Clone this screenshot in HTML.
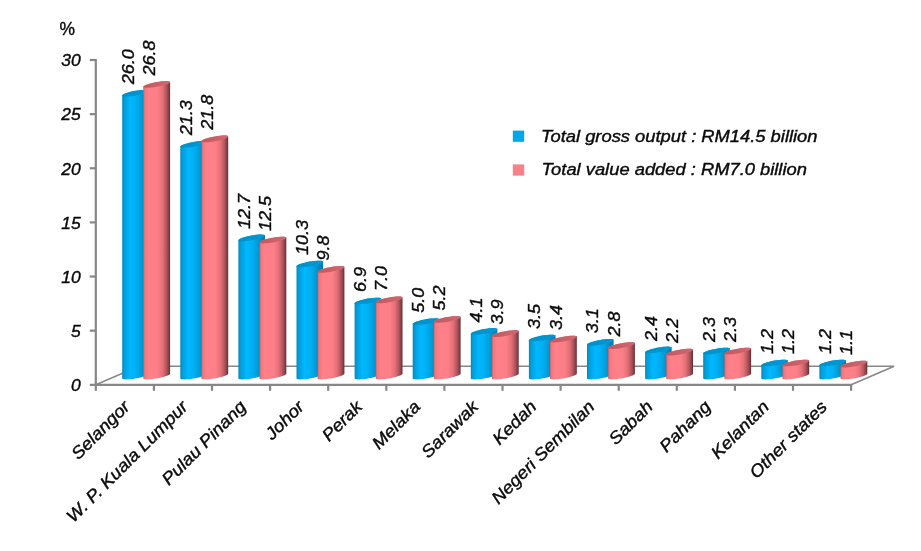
<!DOCTYPE html>
<html lang="en"><head><meta charset="utf-8"><title>Chart</title>
<style>
html,body{margin:0;padding:0;background:#fff;}
body{width:921px;height:551px;overflow:hidden;}
svg{display:block}
text{font-family:"Liberation Sans",Arial,sans-serif;font-style:italic;font-size:17.2px;fill:#0a0a0a;stroke:#0a0a0a;stroke-width:0.4px;}
</style></head><body>
<svg width="921" height="551" viewBox="0 0 921 551">
<defs>
<linearGradient id="gb" x1="0" x2="1" y1="0" y2="0">
<stop offset="0" stop-color="#0088c0"/><stop offset="0.07" stop-color="#009cd8"/><stop offset="0.3" stop-color="#00b8ff"/><stop offset="0.5" stop-color="#00b0f4"/><stop offset="0.68" stop-color="#00a0dc"/><stop offset="0.8" stop-color="#0090c8"/><stop offset="1" stop-color="#0078a8"/>
</linearGradient>
<linearGradient id="gp" x1="0" x2="1" y1="0" y2="0">
<stop offset="0" stop-color="#c86068"/><stop offset="0.06" stop-color="#f07880"/><stop offset="0.2" stop-color="#ff8088"/><stop offset="0.55" stop-color="#fc7e86"/><stop offset="0.72" stop-color="#e47078"/><stop offset="0.85" stop-color="#b85860"/><stop offset="0.95" stop-color="#844048"/><stop offset="1" stop-color="#602830"/>
</linearGradient>
<linearGradient id="tb" x1="0" x2="1" y1="0" y2="0">
<stop offset="0" stop-color="#0090c8"/><stop offset="1" stop-color="#0098d4"/>
</linearGradient>
<linearGradient id="tp" x1="0" x2="1" y1="0" y2="0">
<stop offset="0" stop-color="#c05860"/><stop offset="1" stop-color="#d06870"/>
</linearGradient>
</defs>
<rect width="921" height="551" fill="#fff"/>

<g stroke="#878787" fill="none">
<path d="M95.8,384.8 L138.8,366.2 L894.1,366.2 L851.1,384.8" stroke-width="1.5"/>
</g>
<path d="M122.2,378.4 L122.46,378.82 L123.21,379.14 L124.44,379.34 L126.1,379.42 L128.11,379.36 L130.41,379.18 L132.91,378.88 L135.5,378.47 L138.09,377.97 L140.59,377.4 L142.89,376.77 L144.9,376.12 L146.56,375.47 L147.79,374.84 L148.54,374.26 L148.8,373.75 L148.8,90.86 L148.54,90.44 L147.79,90.12 L146.56,89.92 L144.9,89.85 L142.89,89.9 L140.59,90.08 L138.09,90.38 L135.5,90.79 L132.91,91.29 L130.41,91.87 L128.11,92.49 L126.1,93.14 L124.44,93.79 L123.21,94.42 L122.46,95.01 L122.2,95.52Z" fill="url(#gb)"/>
<path d="M148.8,90.86 L148.54,91.38 L147.79,91.96 L146.56,92.59 L144.9,93.24 L142.89,93.89 L140.59,94.52 L138.09,95.09 L135.5,95.59 L132.91,96 L130.41,96.3 L128.11,96.48 L126.1,96.54 L124.44,96.46 L123.21,96.26 L122.46,95.94 L122.2,95.52 L122.46,95.01 L123.21,94.42 L124.44,93.79 L126.1,93.14 L128.11,92.49 L130.41,91.87 L132.91,91.29 L135.5,90.79 L138.09,90.38 L140.59,90.08 L142.89,89.9 L144.9,89.85 L146.56,89.92 L147.79,90.12 L148.54,90.44 L148.8,90.86Z" fill="url(#tb)"/>
<path d="M143.3,378.4 L143.56,378.82 L144.32,379.14 L145.56,379.34 L147.22,379.41 L149.26,379.35 L151.57,379.17 L154.09,378.87 L156.7,378.45 L159.31,377.95 L161.83,377.37 L164.14,376.75 L166.18,376.09 L167.84,375.44 L169.08,374.81 L169.84,374.22 L170.1,373.71 L170.1,82.13 L169.84,81.7 L169.08,81.39 L167.84,81.19 L166.18,81.12 L164.14,81.17 L161.83,81.36 L159.31,81.66 L156.7,82.07 L154.09,82.57 L151.57,83.15 L149.26,83.78 L147.22,84.43 L145.56,85.09 L144.32,85.72 L143.56,86.3 L143.3,86.82Z" fill="url(#gp)"/>
<path d="M170.1,82.13 L169.84,82.64 L169.08,83.22 L167.84,83.85 L166.18,84.51 L164.14,85.16 L161.83,85.79 L159.31,86.37 L156.7,86.87 L154.09,87.28 L151.57,87.59 L149.26,87.77 L147.22,87.83 L145.56,87.75 L144.32,87.56 L143.56,87.24 L143.3,86.82 L143.56,86.3 L144.32,85.72 L145.56,85.09 L147.22,84.43 L149.26,83.78 L151.57,83.15 L154.09,82.57 L156.7,82.07 L159.31,81.66 L161.83,81.36 L164.14,81.17 L166.18,81.12 L167.84,81.19 L169.08,81.39 L169.84,81.7 L170.1,82.13Z" fill="url(#tp)"/>
<path d="M180.3,378.4 L180.56,378.82 L181.31,379.14 L182.54,379.34 L184.2,379.42 L186.21,379.36 L188.51,379.18 L191.01,378.88 L193.6,378.47 L196.19,377.97 L198.69,377.4 L200.99,376.77 L203,376.12 L204.66,375.47 L205.89,374.84 L206.64,374.26 L206.9,373.75 L206.9,142 L206.64,141.58 L205.89,141.26 L204.66,141.06 L203,140.99 L200.99,141.04 L198.69,141.22 L196.19,141.52 L193.6,141.93 L191.01,142.43 L188.51,143 L186.21,143.63 L184.2,144.28 L182.54,144.93 L181.31,145.56 L180.56,146.14 L180.3,146.66Z" fill="url(#gb)"/>
<path d="M206.9,142 L206.64,142.51 L205.89,143.1 L204.66,143.73 L203,144.38 L200.99,145.03 L198.69,145.66 L196.19,146.23 L193.6,146.73 L191.01,147.14 L188.51,147.44 L186.21,147.62 L184.2,147.67 L182.54,147.6 L181.31,147.4 L180.56,147.08 L180.3,146.66 L180.56,146.14 L181.31,145.56 L182.54,144.93 L184.2,144.28 L186.21,143.63 L188.51,143 L191.01,142.43 L193.6,141.93 L196.19,141.52 L198.69,141.22 L200.99,141.04 L203,140.99 L204.66,141.06 L205.89,141.26 L206.64,141.58 L206.9,142Z" fill="url(#tb)"/>
<path d="M201.4,378.4 L201.66,378.82 L202.42,379.14 L203.66,379.34 L205.32,379.41 L207.36,379.35 L209.67,379.17 L212.19,378.87 L214.8,378.45 L217.41,377.95 L219.93,377.37 L222.24,376.75 L224.28,376.09 L225.94,375.44 L227.18,374.81 L227.94,374.22 L228.2,373.71 L228.2,136.53 L227.94,136.1 L227.18,135.79 L225.94,135.59 L224.28,135.52 L222.24,135.57 L219.93,135.76 L217.41,136.06 L214.8,136.47 L212.19,136.97 L209.67,137.55 L207.36,138.18 L205.32,138.83 L203.66,139.49 L202.42,140.12 L201.66,140.7 L201.4,141.22Z" fill="url(#gp)"/>
<path d="M228.2,136.53 L227.94,137.04 L227.18,137.62 L225.94,138.25 L224.28,138.91 L222.24,139.56 L219.93,140.19 L217.41,140.77 L214.8,141.27 L212.19,141.68 L209.67,141.99 L207.36,142.17 L205.32,142.23 L203.66,142.15 L202.42,141.96 L201.66,141.64 L201.4,141.22 L201.66,140.7 L202.42,140.12 L203.66,139.49 L205.32,138.83 L207.36,138.18 L209.67,137.55 L212.19,136.97 L214.8,136.47 L217.41,136.06 L219.93,135.76 L222.24,135.57 L224.28,135.52 L225.94,135.59 L227.18,135.79 L227.94,136.1 L228.2,136.53Z" fill="url(#tp)"/>
<path d="M238.4,378.4 L238.66,378.82 L239.41,379.14 L240.64,379.34 L242.3,379.42 L244.31,379.36 L246.61,379.18 L249.11,378.88 L251.7,378.47 L254.29,377.97 L256.79,377.4 L259.09,376.77 L261.1,376.12 L262.76,375.47 L263.99,374.84 L264.74,374.26 L265,373.75 L265,235.57 L264.74,235.15 L263.99,234.83 L262.76,234.63 L261.1,234.55 L259.09,234.61 L256.79,234.79 L254.29,235.09 L251.7,235.5 L249.11,236 L246.61,236.57 L244.31,237.19 L242.3,237.85 L240.64,238.5 L239.41,239.13 L238.66,239.71 L238.4,240.22Z" fill="url(#gb)"/>
<path d="M265,235.57 L264.74,236.08 L263.99,236.66 L262.76,237.29 L261.1,237.95 L259.09,238.6 L256.79,239.22 L254.29,239.8 L251.7,240.3 L249.11,240.7 L246.61,241 L244.31,241.19 L242.3,241.24 L240.64,241.17 L239.41,240.97 L238.66,240.65 L238.4,240.22 L238.66,239.71 L239.41,239.13 L240.64,238.5 L242.3,237.85 L244.31,237.19 L246.61,236.57 L249.11,236 L251.7,235.5 L254.29,235.09 L256.79,234.79 L259.09,234.61 L261.1,234.55 L262.76,234.63 L263.99,234.83 L264.74,235.15 L265,235.57Z" fill="url(#tb)"/>
<path d="M259.5,378.4 L259.76,378.82 L260.52,379.14 L261.76,379.34 L263.42,379.41 L265.46,379.35 L267.77,379.17 L270.29,378.87 L272.9,378.45 L275.51,377.95 L278.03,377.37 L280.34,376.75 L282.38,376.09 L284.04,375.44 L285.28,374.81 L286.04,374.22 L286.3,373.71 L286.3,237.71 L286.04,237.29 L285.28,236.97 L284.04,236.77 L282.38,236.7 L280.34,236.76 L278.03,236.94 L275.51,237.24 L272.9,237.65 L270.29,238.16 L267.77,238.74 L265.46,239.36 L263.42,240.02 L261.76,240.67 L260.52,241.3 L259.76,241.89 L259.5,242.4Z" fill="url(#gp)"/>
<path d="M286.3,237.71 L286.04,238.22 L285.28,238.81 L284.04,239.44 L282.38,240.09 L280.34,240.75 L278.03,241.37 L275.51,241.95 L272.9,242.45 L270.29,242.87 L267.77,243.17 L265.46,243.35 L263.42,243.41 L261.76,243.34 L260.52,243.14 L259.76,242.82 L259.5,242.4 L259.76,241.89 L260.52,241.3 L261.76,240.67 L263.42,240.02 L265.46,239.36 L267.77,238.74 L270.29,238.16 L272.9,237.65 L275.51,237.24 L278.03,236.94 L280.34,236.76 L282.38,236.7 L284.04,236.77 L285.28,236.97 L286.04,237.29 L286.3,237.71Z" fill="url(#tp)"/>
<path d="M296.5,378.4 L296.76,378.82 L297.51,379.14 L298.74,379.34 L300.4,379.42 L302.41,379.36 L304.71,379.18 L307.21,378.88 L309.8,378.47 L312.39,377.97 L314.89,377.4 L317.19,376.77 L319.2,376.12 L320.86,375.47 L322.09,374.84 L322.84,374.26 L323.1,373.75 L323.1,261.68 L322.84,261.26 L322.09,260.94 L320.86,260.74 L319.2,260.67 L317.19,260.72 L314.89,260.9 L312.39,261.2 L309.8,261.61 L307.21,262.11 L304.71,262.68 L302.41,263.31 L300.4,263.96 L298.74,264.61 L297.51,265.24 L296.76,265.82 L296.5,266.34Z" fill="url(#gb)"/>
<path d="M323.1,261.68 L322.84,262.19 L322.09,262.78 L320.86,263.41 L319.2,264.06 L317.19,264.71 L314.89,265.34 L312.39,265.91 L309.8,266.41 L307.21,266.82 L304.71,267.12 L302.41,267.3 L300.4,267.35 L298.74,267.28 L297.51,267.08 L296.76,266.76 L296.5,266.34 L296.76,265.82 L297.51,265.24 L298.74,264.61 L300.4,263.96 L302.41,263.31 L304.71,262.68 L307.21,262.11 L309.8,261.61 L312.39,261.2 L314.89,260.9 L317.19,260.72 L319.2,260.67 L320.86,260.74 L322.09,260.94 L322.84,261.26 L323.1,261.68Z" fill="url(#tb)"/>
<path d="M317.6,378.4 L317.86,378.82 L318.62,379.14 L319.86,379.34 L321.52,379.41 L323.56,379.35 L325.87,379.17 L328.39,378.87 L331,378.45 L333.61,377.95 L336.13,377.37 L338.44,376.75 L340.48,376.09 L342.14,375.44 L343.38,374.81 L344.14,374.22 L344.4,373.71 L344.4,267.09 L344.14,266.66 L343.38,266.35 L342.14,266.15 L340.48,266.08 L338.44,266.13 L336.13,266.32 L333.61,266.62 L331,267.03 L328.39,267.53 L325.87,268.11 L323.56,268.74 L321.52,269.39 L319.86,270.05 L318.62,270.68 L317.86,271.26 L317.6,271.78Z" fill="url(#gp)"/>
<path d="M344.4,267.09 L344.14,267.6 L343.38,268.18 L342.14,268.81 L340.48,269.47 L338.44,270.12 L336.13,270.75 L333.61,271.33 L331,271.83 L328.39,272.24 L325.87,272.55 L323.56,272.73 L321.52,272.79 L319.86,272.71 L318.62,272.52 L317.86,272.2 L317.6,271.78 L317.86,271.26 L318.62,270.68 L319.86,270.05 L321.52,269.39 L323.56,268.74 L325.87,268.11 L328.39,267.53 L331,267.03 L333.61,266.62 L336.13,266.32 L338.44,266.13 L340.48,266.08 L342.14,266.15 L343.38,266.35 L344.14,266.66 L344.4,267.09Z" fill="url(#tp)"/>
<path d="M354.6,378.4 L354.86,378.82 L355.61,379.14 L356.84,379.34 L358.5,379.42 L360.51,379.36 L362.81,379.18 L365.31,378.88 L367.9,378.47 L370.49,377.97 L372.99,377.4 L375.29,376.77 L377.3,376.12 L378.96,375.47 L380.19,374.84 L380.94,374.26 L381.2,373.75 L381.2,298.67 L380.94,298.25 L380.19,297.93 L378.96,297.73 L377.3,297.66 L375.29,297.71 L372.99,297.89 L370.49,298.19 L367.9,298.6 L365.31,299.1 L362.81,299.67 L360.51,300.3 L358.5,300.95 L356.84,301.6 L355.61,302.23 L354.86,302.82 L354.6,303.33Z" fill="url(#gb)"/>
<path d="M381.2,298.67 L380.94,299.19 L380.19,299.77 L378.96,300.4 L377.3,301.05 L375.29,301.7 L372.99,302.33 L370.49,302.9 L367.9,303.4 L365.31,303.81 L362.81,304.11 L360.51,304.29 L358.5,304.34 L356.84,304.27 L355.61,304.07 L354.86,303.75 L354.6,303.33 L354.86,302.82 L355.61,302.23 L356.84,301.6 L358.5,300.95 L360.51,300.3 L362.81,299.67 L365.31,299.1 L367.9,298.6 L370.49,298.19 L372.99,297.89 L375.29,297.71 L377.3,297.66 L378.96,297.73 L380.19,297.93 L380.94,298.25 L381.2,298.67Z" fill="url(#tb)"/>
<path d="M375.7,378.4 L375.96,378.82 L376.72,379.14 L377.96,379.34 L379.62,379.41 L381.66,379.35 L383.97,379.17 L386.49,378.87 L389.1,378.45 L391.71,377.95 L394.23,377.37 L396.54,376.75 L398.58,376.09 L400.24,375.44 L401.48,374.81 L402.24,374.22 L402.5,373.71 L402.5,297.55 L402.24,297.13 L401.48,296.81 L400.24,296.61 L398.58,296.54 L396.54,296.6 L394.23,296.78 L391.71,297.08 L389.1,297.49 L386.49,298 L383.97,298.58 L381.66,299.2 L379.62,299.86 L377.96,300.51 L376.72,301.14 L375.96,301.73 L375.7,302.24Z" fill="url(#gp)"/>
<path d="M402.5,297.55 L402.24,298.06 L401.48,298.65 L400.24,299.28 L398.58,299.93 L396.54,300.59 L394.23,301.21 L391.71,301.79 L389.1,302.29 L386.49,302.71 L383.97,303.01 L381.66,303.19 L379.62,303.25 L377.96,303.18 L376.72,302.98 L375.96,302.66 L375.7,302.24 L375.96,301.73 L376.72,301.14 L377.96,300.51 L379.62,299.86 L381.66,299.2 L383.97,298.58 L386.49,298 L389.1,297.49 L391.71,297.08 L394.23,296.78 L396.54,296.6 L398.58,296.54 L400.24,296.61 L401.48,296.81 L402.24,297.13 L402.5,297.55Z" fill="url(#tp)"/>
<path d="M412.7,378.4 L412.96,378.82 L413.71,379.14 L414.94,379.34 L416.6,379.42 L418.61,379.36 L420.91,379.18 L423.41,378.88 L426,378.47 L428.59,377.97 L431.09,377.4 L433.39,376.77 L435.4,376.12 L437.06,375.47 L438.29,374.84 L439.04,374.26 L439.3,373.75 L439.3,319.35 L439.04,318.92 L438.29,318.6 L437.06,318.4 L435.4,318.33 L433.39,318.38 L431.09,318.56 L428.59,318.86 L426,319.27 L423.41,319.77 L420.91,320.35 L418.61,320.97 L416.6,321.62 L414.94,322.27 L413.71,322.9 L412.96,323.49 L412.7,324Z" fill="url(#gb)"/>
<path d="M439.3,319.35 L439.04,319.86 L438.29,320.44 L437.06,321.07 L435.4,321.72 L433.39,322.37 L431.09,323 L428.59,323.57 L426,324.07 L423.41,324.48 L420.91,324.78 L418.61,324.96 L416.6,325.02 L414.94,324.94 L413.71,324.74 L412.96,324.42 L412.7,324 L412.96,323.49 L413.71,322.9 L414.94,322.27 L416.6,321.62 L418.61,320.97 L420.91,320.35 L423.41,319.77 L426,319.27 L428.59,318.86 L431.09,318.56 L433.39,318.38 L435.4,318.33 L437.06,318.4 L438.29,318.6 L439.04,318.92 L439.3,319.35Z" fill="url(#tb)"/>
<path d="M433.8,378.4 L434.06,378.82 L434.82,379.14 L436.06,379.34 L437.72,379.41 L439.76,379.35 L442.07,379.17 L444.59,378.87 L447.2,378.45 L449.81,377.95 L452.33,377.37 L454.64,376.75 L456.68,376.09 L458.34,375.44 L459.58,374.81 L460.34,374.22 L460.6,373.71 L460.6,317.13 L460.34,316.71 L459.58,316.39 L458.34,316.2 L456.68,316.12 L454.64,316.18 L452.33,316.36 L449.81,316.67 L447.2,317.08 L444.59,317.58 L442.07,318.16 L439.76,318.79 L437.72,319.44 L436.06,320.1 L434.82,320.73 L434.06,321.31 L433.8,321.82Z" fill="url(#gp)"/>
<path d="M460.6,317.13 L460.34,317.65 L459.58,318.23 L458.34,318.86 L456.68,319.52 L454.64,320.17 L452.33,320.8 L449.81,321.38 L447.2,321.88 L444.59,322.29 L442.07,322.59 L439.76,322.78 L437.72,322.83 L436.06,322.76 L434.82,322.56 L434.06,322.25 L433.8,321.82 L434.06,321.31 L434.82,320.73 L436.06,320.1 L437.72,319.44 L439.76,318.79 L442.07,318.16 L444.59,317.58 L447.2,317.08 L449.81,316.67 L452.33,316.36 L454.64,316.18 L456.68,316.12 L458.34,316.2 L459.58,316.39 L460.34,316.71 L460.6,317.13Z" fill="url(#tp)"/>
<path d="M470.8,378.4 L471.06,378.82 L471.81,379.14 L473.04,379.34 L474.7,379.42 L476.71,379.36 L479.01,379.18 L481.51,378.88 L484.1,378.47 L486.69,377.97 L489.19,377.4 L491.49,376.77 L493.5,376.12 L495.16,375.47 L496.39,374.84 L497.14,374.26 L497.4,373.75 L497.4,329.14 L497.14,328.71 L496.39,328.4 L495.16,328.2 L493.5,328.12 L491.49,328.18 L489.19,328.36 L486.69,328.66 L484.1,329.06 L481.51,329.56 L479.01,330.14 L476.71,330.76 L474.7,331.41 L473.04,332.07 L471.81,332.7 L471.06,333.28 L470.8,333.79Z" fill="url(#gb)"/>
<path d="M497.4,329.14 L497.14,329.65 L496.39,330.23 L495.16,330.86 L493.5,331.52 L491.49,332.17 L489.19,332.79 L486.69,333.36 L484.1,333.86 L481.51,334.27 L479.01,334.57 L476.71,334.75 L474.7,334.81 L473.04,334.73 L471.81,334.53 L471.06,334.22 L470.8,333.79 L471.06,333.28 L471.81,332.7 L473.04,332.07 L474.7,331.41 L476.71,330.76 L479.01,330.14 L481.51,329.56 L484.1,329.06 L486.69,328.66 L489.19,328.36 L491.49,328.18 L493.5,328.12 L495.16,328.2 L496.39,328.4 L497.14,328.71 L497.4,329.14Z" fill="url(#tb)"/>
<path d="M491.9,378.4 L492.16,378.82 L492.92,379.14 L494.16,379.34 L495.82,379.41 L497.86,379.35 L500.17,379.17 L502.69,378.87 L505.3,378.45 L507.91,377.95 L510.43,377.37 L512.74,376.75 L514.78,376.09 L516.44,375.44 L517.68,374.81 L518.44,374.22 L518.7,373.71 L518.7,331.28 L518.44,330.85 L517.68,330.54 L516.44,330.34 L514.78,330.27 L512.74,330.32 L510.43,330.51 L507.91,330.81 L505.3,331.22 L502.69,331.73 L500.17,332.3 L497.86,332.93 L495.82,333.58 L494.16,334.24 L492.92,334.87 L492.16,335.45 L491.9,335.97Z" fill="url(#gp)"/>
<path d="M518.7,331.28 L518.44,331.79 L517.68,332.37 L516.44,333.01 L514.78,333.66 L512.74,334.32 L510.43,334.94 L507.91,335.52 L505.3,336.02 L502.69,336.43 L500.17,336.74 L497.86,336.92 L495.82,336.98 L494.16,336.91 L492.92,336.71 L492.16,336.39 L491.9,335.97 L492.16,335.45 L492.92,334.87 L494.16,334.24 L495.82,333.58 L497.86,332.93 L500.17,332.3 L502.69,331.73 L505.3,331.22 L507.91,330.81 L510.43,330.51 L512.74,330.32 L514.78,330.27 L516.44,330.34 L517.68,330.54 L518.44,330.85 L518.7,331.28Z" fill="url(#tp)"/>
<path d="M528.9,378.4 L529.16,378.82 L529.91,379.14 L531.14,379.34 L532.8,379.42 L534.81,379.36 L537.11,379.18 L539.61,378.88 L542.2,378.47 L544.79,377.97 L547.29,377.4 L549.59,376.77 L551.6,376.12 L553.26,375.47 L554.49,374.84 L555.24,374.26 L555.5,373.75 L555.5,335.67 L555.24,335.24 L554.49,334.92 L553.26,334.72 L551.6,334.65 L549.59,334.7 L547.29,334.88 L544.79,335.18 L542.2,335.59 L539.61,336.09 L537.11,336.67 L534.81,337.29 L532.8,337.94 L531.14,338.59 L529.91,339.22 L529.16,339.81 L528.9,340.32Z" fill="url(#gb)"/>
<path d="M555.5,335.67 L555.24,336.18 L554.49,336.76 L553.26,337.39 L551.6,338.04 L549.59,338.69 L547.29,339.32 L544.79,339.89 L542.2,340.39 L539.61,340.8 L537.11,341.1 L534.81,341.28 L532.8,341.34 L531.14,341.26 L529.91,341.06 L529.16,340.74 L528.9,340.32 L529.16,339.81 L529.91,339.22 L531.14,338.59 L532.8,337.94 L534.81,337.29 L537.11,336.67 L539.61,336.09 L542.2,335.59 L544.79,335.18 L547.29,334.88 L549.59,334.7 L551.6,334.65 L553.26,334.72 L554.49,334.92 L555.24,335.24 L555.5,335.67Z" fill="url(#tb)"/>
<path d="M550,378.4 L550.26,378.82 L551.02,379.14 L552.26,379.34 L553.92,379.41 L555.96,379.35 L558.27,379.17 L560.79,378.87 L563.4,378.45 L566.01,377.95 L568.53,377.37 L570.84,376.75 L572.88,376.09 L574.54,375.44 L575.78,374.81 L576.54,374.22 L576.8,373.71 L576.8,336.72 L576.54,336.29 L575.78,335.98 L574.54,335.78 L572.88,335.71 L570.84,335.76 L568.53,335.95 L566.01,336.25 L563.4,336.66 L560.79,337.17 L558.27,337.74 L555.96,338.37 L553.92,339.02 L552.26,339.68 L551.02,340.31 L550.26,340.89 L550,341.41Z" fill="url(#gp)"/>
<path d="M576.8,336.72 L576.54,337.23 L575.78,337.81 L574.54,338.45 L572.88,339.1 L570.84,339.76 L568.53,340.38 L566.01,340.96 L563.4,341.46 L560.79,341.87 L558.27,342.18 L555.96,342.36 L553.92,342.42 L552.26,342.35 L551.02,342.15 L550.26,341.83 L550,341.41 L550.26,340.89 L551.02,340.31 L552.26,339.68 L553.92,339.02 L555.96,338.37 L558.27,337.74 L560.79,337.17 L563.4,336.66 L566.01,336.25 L568.53,335.95 L570.84,335.76 L572.88,335.71 L574.54,335.78 L575.78,335.98 L576.54,336.29 L576.8,336.72Z" fill="url(#tp)"/>
<path d="M587,378.4 L587.26,378.82 L588.01,379.14 L589.24,379.34 L590.9,379.42 L592.91,379.36 L595.21,379.18 L597.71,378.88 L600.3,378.47 L602.89,377.97 L605.39,377.4 L607.69,376.77 L609.7,376.12 L611.36,375.47 L612.59,374.84 L613.34,374.26 L613.6,373.75 L613.6,340.02 L613.34,339.59 L612.59,339.28 L611.36,339.08 L609.7,339 L607.69,339.06 L605.39,339.24 L602.89,339.54 L600.3,339.94 L597.71,340.44 L595.21,341.02 L592.91,341.64 L590.9,342.29 L589.24,342.95 L588.01,343.58 L587.26,344.16 L587,344.67Z" fill="url(#gb)"/>
<path d="M613.6,340.02 L613.34,340.53 L612.59,341.11 L611.36,341.74 L609.7,342.4 L607.69,343.05 L605.39,343.67 L602.89,344.24 L600.3,344.74 L597.71,345.15 L595.21,345.45 L592.91,345.63 L590.9,345.69 L589.24,345.61 L588.01,345.41 L587.26,345.1 L587,344.67 L587.26,344.16 L588.01,343.58 L589.24,342.95 L590.9,342.29 L592.91,341.64 L595.21,341.02 L597.71,340.44 L600.3,339.94 L602.89,339.54 L605.39,339.24 L607.69,339.06 L609.7,339 L611.36,339.08 L612.59,339.28 L613.34,339.59 L613.6,340.02Z" fill="url(#tb)"/>
<path d="M608.1,378.4 L608.36,378.82 L609.12,379.14 L610.36,379.34 L612.02,379.41 L614.06,379.35 L616.37,379.17 L618.89,378.87 L621.5,378.45 L624.11,377.95 L626.63,377.37 L628.94,376.75 L630.98,376.09 L632.64,375.44 L633.88,374.81 L634.64,374.22 L634.9,373.71 L634.9,343.25 L634.64,342.82 L633.88,342.51 L632.64,342.31 L630.98,342.24 L628.94,342.29 L626.63,342.48 L624.11,342.78 L621.5,343.19 L618.89,343.69 L616.37,344.27 L614.06,344.9 L612.02,345.55 L610.36,346.21 L609.12,346.84 L608.36,347.42 L608.1,347.94Z" fill="url(#gp)"/>
<path d="M634.9,343.25 L634.64,343.76 L633.88,344.34 L632.64,344.97 L630.98,345.63 L628.94,346.28 L626.63,346.91 L624.11,347.49 L621.5,347.99 L618.89,348.4 L616.37,348.71 L614.06,348.89 L612.02,348.95 L610.36,348.87 L609.12,348.68 L608.36,348.36 L608.1,347.94 L608.36,347.42 L609.12,346.84 L610.36,346.21 L612.02,345.55 L614.06,344.9 L616.37,344.27 L618.89,343.69 L621.5,343.19 L624.11,342.78 L626.63,342.48 L628.94,342.29 L630.98,342.24 L632.64,342.31 L633.88,342.51 L634.64,342.82 L634.9,343.25Z" fill="url(#tp)"/>
<path d="M645.1,378.4 L645.36,378.82 L646.11,379.14 L647.34,379.34 L649,379.42 L651.01,379.36 L653.31,379.18 L655.81,378.88 L658.4,378.47 L660.99,377.97 L663.49,377.4 L665.79,376.77 L667.8,376.12 L669.46,375.47 L670.69,374.84 L671.44,374.26 L671.7,373.75 L671.7,347.63 L671.44,347.21 L670.69,346.89 L669.46,346.69 L667.8,346.62 L665.79,346.67 L663.49,346.85 L660.99,347.15 L658.4,347.56 L655.81,348.06 L653.31,348.63 L651.01,349.26 L649,349.91 L647.34,350.56 L646.11,351.19 L645.36,351.78 L645.1,352.29Z" fill="url(#gb)"/>
<path d="M671.7,347.63 L671.44,348.15 L670.69,348.73 L669.46,349.36 L667.8,350.01 L665.79,350.66 L663.49,351.29 L660.99,351.86 L658.4,352.36 L655.81,352.77 L653.31,353.07 L651.01,353.25 L649,353.3 L647.34,353.23 L646.11,353.03 L645.36,352.71 L645.1,352.29 L645.36,351.78 L646.11,351.19 L647.34,350.56 L649,349.91 L651.01,349.26 L653.31,348.63 L655.81,348.06 L658.4,347.56 L660.99,347.15 L663.49,346.85 L665.79,346.67 L667.8,346.62 L669.46,346.69 L670.69,346.89 L671.44,347.21 L671.7,347.63Z" fill="url(#tb)"/>
<path d="M666.2,378.4 L666.46,378.82 L667.22,379.14 L668.46,379.34 L670.12,379.41 L672.16,379.35 L674.47,379.17 L676.99,378.87 L679.6,378.45 L682.21,377.95 L684.73,377.37 L687.04,376.75 L689.08,376.09 L690.74,375.44 L691.98,374.81 L692.74,374.22 L693,373.71 L693,349.77 L692.74,349.35 L691.98,349.03 L690.74,348.84 L689.08,348.76 L687.04,348.82 L684.73,349 L682.21,349.31 L679.6,349.72 L676.99,350.22 L674.47,350.8 L672.16,351.43 L670.12,352.08 L668.46,352.74 L667.22,353.37 L666.46,353.95 L666.2,354.46Z" fill="url(#gp)"/>
<path d="M693,349.77 L692.74,350.29 L691.98,350.87 L690.74,351.5 L689.08,352.16 L687.04,352.81 L684.73,353.44 L682.21,354.02 L679.6,354.52 L676.99,354.93 L674.47,355.23 L672.16,355.42 L670.12,355.47 L668.46,355.4 L667.22,355.2 L666.46,354.89 L666.2,354.46 L666.46,353.95 L667.22,353.37 L668.46,352.74 L670.12,352.08 L672.16,351.43 L674.47,350.8 L676.99,350.22 L679.6,349.72 L682.21,349.31 L684.73,349 L687.04,348.82 L689.08,348.76 L690.74,348.84 L691.98,349.03 L692.74,349.35 L693,349.77Z" fill="url(#tp)"/>
<path d="M703.2,378.4 L703.46,378.82 L704.21,379.14 L705.44,379.34 L707.1,379.42 L709.11,379.36 L711.41,379.18 L713.91,378.88 L716.5,378.47 L719.09,377.97 L721.59,377.4 L723.89,376.77 L725.9,376.12 L727.56,375.47 L728.79,374.84 L729.54,374.26 L729.8,373.75 L729.8,348.72 L729.54,348.3 L728.79,347.98 L727.56,347.78 L725.9,347.71 L723.89,347.76 L721.59,347.94 L719.09,348.24 L716.5,348.65 L713.91,349.15 L711.41,349.72 L709.11,350.35 L707.1,351 L705.44,351.65 L704.21,352.28 L703.46,352.86 L703.2,353.38Z" fill="url(#gb)"/>
<path d="M729.8,348.72 L729.54,349.23 L728.79,349.82 L727.56,350.45 L725.9,351.1 L723.89,351.75 L721.59,352.38 L719.09,352.95 L716.5,353.45 L713.91,353.86 L711.41,354.16 L709.11,354.34 L707.1,354.39 L705.44,354.32 L704.21,354.12 L703.46,353.8 L703.2,353.38 L703.46,352.86 L704.21,352.28 L705.44,351.65 L707.1,351 L709.11,350.35 L711.41,349.72 L713.91,349.15 L716.5,348.65 L719.09,348.24 L721.59,347.94 L723.89,347.76 L725.9,347.71 L727.56,347.78 L728.79,347.98 L729.54,348.3 L729.8,348.72Z" fill="url(#tb)"/>
<path d="M724.3,378.4 L724.56,378.82 L725.32,379.14 L726.56,379.34 L728.22,379.41 L730.26,379.35 L732.57,379.17 L735.09,378.87 L737.7,378.45 L740.31,377.95 L742.83,377.37 L745.14,376.75 L747.18,376.09 L748.84,375.44 L750.08,374.81 L750.84,374.22 L751.1,373.71 L751.1,348.69 L750.84,348.26 L750.08,347.95 L748.84,347.75 L747.18,347.68 L745.14,347.73 L742.83,347.92 L740.31,348.22 L737.7,348.63 L735.09,349.13 L732.57,349.71 L730.26,350.34 L728.22,350.99 L726.56,351.65 L725.32,352.28 L724.56,352.86 L724.3,353.38Z" fill="url(#gp)"/>
<path d="M751.1,348.69 L750.84,349.2 L750.08,349.78 L748.84,350.41 L747.18,351.07 L745.14,351.72 L742.83,352.35 L740.31,352.93 L737.7,353.43 L735.09,353.84 L732.57,354.15 L730.26,354.33 L728.22,354.39 L726.56,354.31 L725.32,354.12 L724.56,353.8 L724.3,353.38 L724.56,352.86 L725.32,352.28 L726.56,351.65 L728.22,350.99 L730.26,350.34 L732.57,349.71 L735.09,349.13 L737.7,348.63 L740.31,348.22 L742.83,347.92 L745.14,347.73 L747.18,347.68 L748.84,347.75 L750.08,347.95 L750.84,348.26 L751.1,348.69Z" fill="url(#tp)"/>
<path d="M761.3,378.4 L761.56,378.82 L762.31,379.14 L763.54,379.34 L765.2,379.42 L767.21,379.36 L769.51,379.18 L772.01,378.88 L774.6,378.47 L777.19,377.97 L779.69,377.4 L781.99,376.77 L784,376.12 L785.66,375.47 L786.89,374.84 L787.64,374.26 L787.9,373.75 L787.9,360.69 L787.64,360.27 L786.89,359.95 L785.66,359.75 L784,359.67 L781.99,359.73 L779.69,359.91 L777.19,360.21 L774.6,360.62 L772.01,361.12 L769.51,361.69 L767.21,362.31 L765.2,362.97 L763.54,363.62 L762.31,364.25 L761.56,364.83 L761.3,365.34Z" fill="url(#gb)"/>
<path d="M787.9,360.69 L787.64,361.2 L786.89,361.78 L785.66,362.41 L784,363.07 L781.99,363.72 L779.69,364.34 L777.19,364.92 L774.6,365.42 L772.01,365.82 L769.51,366.12 L767.21,366.31 L765.2,366.36 L763.54,366.29 L762.31,366.09 L761.56,365.77 L761.3,365.34 L761.56,364.83 L762.31,364.25 L763.54,363.62 L765.2,362.97 L767.21,362.31 L769.51,361.69 L772.01,361.12 L774.6,360.62 L777.19,360.21 L779.69,359.91 L781.99,359.73 L784,359.67 L785.66,359.75 L786.89,359.95 L787.64,360.27 L787.9,360.69Z" fill="url(#tb)"/>
<path d="M782.4,378.4 L782.66,378.82 L783.42,379.14 L784.66,379.34 L786.32,379.41 L788.36,379.35 L790.67,379.17 L793.19,378.87 L795.8,378.45 L798.41,377.95 L800.93,377.37 L803.24,376.75 L805.28,376.09 L806.94,375.44 L808.18,374.81 L808.94,374.22 L809.2,373.71 L809.2,360.65 L808.94,360.23 L808.18,359.91 L806.94,359.72 L805.28,359.64 L803.24,359.7 L800.93,359.88 L798.41,360.19 L795.8,360.6 L793.19,361.1 L790.67,361.68 L788.36,362.31 L786.32,362.96 L784.66,363.62 L783.42,364.25 L782.66,364.83 L782.4,365.34Z" fill="url(#gp)"/>
<path d="M809.2,360.65 L808.94,361.17 L808.18,361.75 L806.94,362.38 L805.28,363.04 L803.24,363.69 L800.93,364.32 L798.41,364.9 L795.8,365.4 L793.19,365.81 L790.67,366.11 L788.36,366.3 L786.32,366.35 L784.66,366.28 L783.42,366.08 L782.66,365.77 L782.4,365.34 L782.66,364.83 L783.42,364.25 L784.66,363.62 L786.32,362.96 L788.36,362.31 L790.67,361.68 L793.19,361.1 L795.8,360.6 L798.41,360.19 L800.93,359.88 L803.24,359.7 L805.28,359.64 L806.94,359.72 L808.18,359.91 L808.94,360.23 L809.2,360.65Z" fill="url(#tp)"/>
<path d="M819.4,378.4 L819.66,378.82 L820.41,379.14 L821.64,379.34 L823.3,379.42 L825.31,379.36 L827.61,379.18 L830.11,378.88 L832.7,378.47 L835.29,377.97 L837.79,377.4 L840.09,376.77 L842.1,376.12 L843.76,375.47 L844.99,374.84 L845.74,374.26 L846,373.75 L846,360.69 L845.74,360.27 L844.99,359.95 L843.76,359.75 L842.1,359.67 L840.09,359.73 L837.79,359.91 L835.29,360.21 L832.7,360.62 L830.11,361.12 L827.61,361.69 L825.31,362.31 L823.3,362.97 L821.64,363.62 L820.41,364.25 L819.66,364.83 L819.4,365.34Z" fill="url(#gb)"/>
<path d="M846,360.69 L845.74,361.2 L844.99,361.78 L843.76,362.41 L842.1,363.07 L840.09,363.72 L837.79,364.34 L835.29,364.92 L832.7,365.42 L830.11,365.82 L827.61,366.12 L825.31,366.31 L823.3,366.36 L821.64,366.29 L820.41,366.09 L819.66,365.77 L819.4,365.34 L819.66,364.83 L820.41,364.25 L821.64,363.62 L823.3,362.97 L825.31,362.31 L827.61,361.69 L830.11,361.12 L832.7,360.62 L835.29,360.21 L837.79,359.91 L840.09,359.73 L842.1,359.67 L843.76,359.75 L844.99,359.95 L845.74,360.27 L846,360.69Z" fill="url(#tb)"/>
<path d="M840.5,378.4 L840.76,378.82 L841.52,379.14 L842.76,379.34 L844.42,379.41 L846.46,379.35 L848.77,379.17 L851.29,378.87 L853.9,378.45 L856.51,377.95 L859.03,377.37 L861.34,376.75 L863.38,376.09 L865.04,375.44 L866.28,374.81 L867.04,374.22 L867.3,373.71 L867.3,361.74 L867.04,361.32 L866.28,361 L865.04,360.8 L863.38,360.73 L861.34,360.79 L859.03,360.97 L856.51,361.28 L853.9,361.69 L851.29,362.19 L848.77,362.77 L846.46,363.39 L844.42,364.05 L842.76,364.7 L841.52,365.34 L840.76,365.92 L840.5,366.43Z" fill="url(#gp)"/>
<path d="M867.3,361.74 L867.04,362.26 L866.28,362.84 L865.04,363.47 L863.38,364.13 L861.34,364.78 L859.03,365.41 L856.51,365.98 L853.9,366.49 L851.29,366.9 L848.77,367.2 L846.46,367.39 L844.42,367.44 L842.76,367.37 L841.52,367.17 L840.76,366.86 L840.5,366.43 L840.76,365.92 L841.52,365.34 L842.76,364.7 L844.42,364.05 L846.46,363.39 L848.77,362.77 L851.29,362.19 L853.9,361.69 L856.51,361.28 L859.03,360.97 L861.34,360.79 L863.38,360.73 L865.04,360.8 L866.28,361 L867.04,361.32 L867.3,361.74Z" fill="url(#tp)"/>
<g stroke="#878787" stroke-width="2.2" fill="none">
<path d="M95.8,59 V385.8"/>
<path d="M89.8,384.8 H852.1"/>
<path d="M89.8,330.67 H95.8"/>
<path d="M89.8,276.53 H95.8"/>
<path d="M89.8,222.4 H95.8"/>
<path d="M89.8,168.27 H95.8"/>
<path d="M89.8,114.13 H95.8"/>
<path d="M89.8,60 H95.8"/>
<path d="M95.8,384.8 V390.8"/>
<path d="M153.9,384.8 V390.8"/>
<path d="M212,384.8 V390.8"/>
<path d="M270.1,384.8 V390.8"/>
<path d="M328.2,384.8 V390.8"/>
<path d="M386.3,384.8 V390.8"/>
<path d="M444.4,384.8 V390.8"/>
<path d="M502.5,384.8 V390.8"/>
<path d="M560.6,384.8 V390.8"/>
<path d="M618.7,384.8 V390.8"/>
<path d="M676.8,384.8 V390.8"/>
<path d="M734.9,384.8 V390.8"/>
<path d="M793,384.8 V390.8"/>
<path d="M851.1,384.8 V390.8"/>
</g>
<text transform="translate(80.6,391.1) scale(1.015,1)" text-anchor="end">0</text>
<text transform="translate(80.6,336.97) scale(1.015,1)" text-anchor="end">5</text>
<text transform="translate(80.6,282.83) scale(1.015,1)" text-anchor="end">10</text>
<text transform="translate(80.6,228.7) scale(1.015,1)" text-anchor="end">15</text>
<text transform="translate(80.6,174.57) scale(1.015,1)" text-anchor="end">20</text>
<text transform="translate(80.6,120.43) scale(1.015,1)" text-anchor="end">25</text>
<text transform="translate(80.6,66.3) scale(1.015,1)" text-anchor="end">30</text>
<text x="59.5" y="35.3" style="font-style:normal;font-size:19px" textLength="15.5" lengthAdjust="spacingAndGlyphs">%</text>
<text transform="translate(133.6,84.19) rotate(-90) scale(1.047,1)">26.0</text>
<text transform="translate(154.8,75.47) rotate(-90) scale(1.047,1)">26.8</text>
<text transform="translate(191.7,135.33) rotate(-90) scale(1.047,1)">21.3</text>
<text transform="translate(212.9,129.87) rotate(-90) scale(1.047,1)">21.8</text>
<text transform="translate(249.8,228.9) rotate(-90) scale(1.047,1)">12.7</text>
<text transform="translate(271,231.05) rotate(-90) scale(1.047,1)">12.5</text>
<text transform="translate(307.9,255.01) rotate(-90) scale(1.047,1)">10.3</text>
<text transform="translate(329.1,260.43) rotate(-90) scale(1.047,1)">9.8</text>
<text transform="translate(366,292) rotate(-90) scale(1.047,1)">6.9</text>
<text transform="translate(387.2,290.89) rotate(-90) scale(1.047,1)">7.0</text>
<text transform="translate(424.1,312.67) rotate(-90) scale(1.047,1)">5.0</text>
<text transform="translate(445.3,310.48) rotate(-90) scale(1.047,1)">5.2</text>
<text transform="translate(482.2,322.46) rotate(-90) scale(1.047,1)">4.1</text>
<text transform="translate(503.4,324.62) rotate(-90) scale(1.047,1)">3.9</text>
<text transform="translate(540.3,328.99) rotate(-90) scale(1.047,1)">3.5</text>
<text transform="translate(561.5,330.06) rotate(-90) scale(1.047,1)">3.4</text>
<text transform="translate(598.4,333.34) rotate(-90) scale(1.047,1)">3.1</text>
<text transform="translate(619.6,336.59) rotate(-90) scale(1.047,1)">2.8</text>
<text transform="translate(656.5,340.96) rotate(-90) scale(1.047,1)">2.4</text>
<text transform="translate(677.7,343.12) rotate(-90) scale(1.047,1)">2.2</text>
<text transform="translate(714.6,342.05) rotate(-90) scale(1.047,1)">2.3</text>
<text transform="translate(735.8,342.03) rotate(-90) scale(1.047,1)">2.3</text>
<text transform="translate(772.7,354.02) rotate(-90) scale(1.047,1)">1.2</text>
<text transform="translate(793.9,354) rotate(-90) scale(1.047,1)">1.2</text>
<text transform="translate(830.8,354.02) rotate(-90) scale(1.047,1)">1.2</text>
<text transform="translate(852,355.09) rotate(-90) scale(1.047,1)">1.1</text>
<text transform="translate(130.85,407.8) rotate(-45) scale(1.081,1)" text-anchor="end">Selangor</text>
<text transform="translate(188.95,407.8) rotate(-45) scale(1.081,1)" text-anchor="end">W. P. Kuala Lumpur</text>
<text transform="translate(247.05,407.8) rotate(-45) scale(1.081,1)" text-anchor="end">Pulau Pinang</text>
<text transform="translate(305.15,407.8) rotate(-45) scale(1.081,1)" text-anchor="end">Johor</text>
<text transform="translate(363.25,407.8) rotate(-45) scale(1.081,1)" text-anchor="end">Perak</text>
<text transform="translate(421.35,407.8) rotate(-45) scale(1.081,1)" text-anchor="end">Melaka</text>
<text transform="translate(479.45,407.8) rotate(-45) scale(1.081,1)" text-anchor="end">Sarawak</text>
<text transform="translate(537.55,407.8) rotate(-45) scale(1.081,1)" text-anchor="end">Kedah</text>
<text transform="translate(595.65,407.8) rotate(-45) scale(1.081,1)" text-anchor="end">Negeri Sembilan</text>
<text transform="translate(653.75,407.8) rotate(-45) scale(1.081,1)" text-anchor="end">Sabah</text>
<text transform="translate(711.85,407.8) rotate(-45) scale(1.081,1)" text-anchor="end">Pahang</text>
<text transform="translate(769.95,407.8) rotate(-45) scale(1.081,1)" text-anchor="end">Kelantan</text>
<text transform="translate(828.05,407.8) rotate(-45) scale(1.081,1)" text-anchor="end">Other states</text>
<rect x="512.8" y="130.6" width="11.4" height="11.2" fill="#00a8e8"/>
<rect x="512.8" y="164.4" width="11.4" height="11.2" fill="#f88088"/>
<text transform="translate(541,142.0) scale(1.067,1)">Total gross output : RM14.5 billion</text>
<text transform="translate(541.6,175.1) scale(1.067,1)">Total value added : RM7.0 billion</text>
</svg></body></html>
